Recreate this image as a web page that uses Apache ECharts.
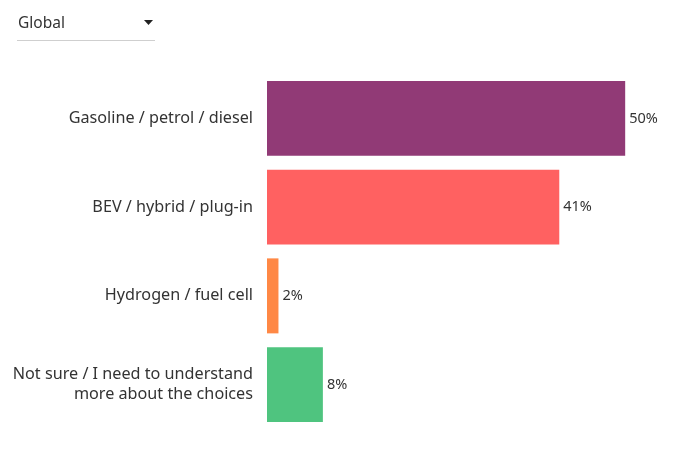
<!DOCTYPE html>
<html>
<head>
<meta charset="utf-8">
<script src="https://cdn.jsdelivr.net/npm/echarts@6/dist/echarts.min.js"></script>
<style>
  html, body { margin: 0; padding: 0; background: #fff; }
  #chart { width: 683px; height: 474px; }
</style>
</head>
<body>
<div id="chart"></div>
<script>
var categories = [
    'Gasoline / petrol / diesel',
    'BEV / hybrid / plug-in',
    'Hydrogen / fuel cell',
    'Not sure / I need to understand\nmore about the choices'
];
var shares = [50, 40.8, 1.6, 7.8];
var barColors = ['#913a76', '#ff6161', '#ff8845', '#4fc47f'];
var regionLabel = 'Global';

var myChart = echarts.init(document.getElementById('chart'));
var fontFamily = '"Noto Sans", "Open Sans", sans-serif';

var option = {
    animation: false,
    textStyle: { fontFamily: fontFamily },
    graphic: [
        {
            type: 'text',
            left: 18,
            top: 16,
            style: { text: regionLabel, fontSize: 15.5, fill: '#333', fontFamily: fontFamily }
        },
        {
            type: 'polygon',
            shape: { points: [[144, 20], [153, 20], [148.5, 25]] },
            style: { fill: '#222' }
        },
        {
            type: 'line',
            shape: { x1: 17, y1: 40.5, x2: 155, y2: 40.5 },
            style: { stroke: '#cfcfcf', lineWidth: 1 }
        }
    ],
    grid: {
        left: 267,
        right: 22,
        top: 74,
        bottom: 45,
        containLabel: false
    },
    xAxis: {
        type: 'value',
        min: 0,
        max: 55,
        show: false
    },
    yAxis: {
        type: 'category',
        inverse: true,
        data: categories,
        axisLine: { show: false },
        axisTick: { show: false },
        axisLabel: {
            margin: 14,
            color: '#333',
            fontSize: 16.2,
            lineHeight: 20,
            align: 'right'
        }
    },
    series: [{
        type: 'bar',
        barCategoryGap: '15.5%',
        data: shares.map(function (v, i) {
            return { value: v, itemStyle: { color: barColors[i] } };
        }),
        label: {
            show: true,
            position: 'right',
            distance: 4,
            color: '#333',
            fontSize: 14.5,
            formatter: function (p) {
                return Math.round(p.value) + '%';
            }
        }
    }]
};
myChart.setOption(option);
</script>
</body>
</html>
